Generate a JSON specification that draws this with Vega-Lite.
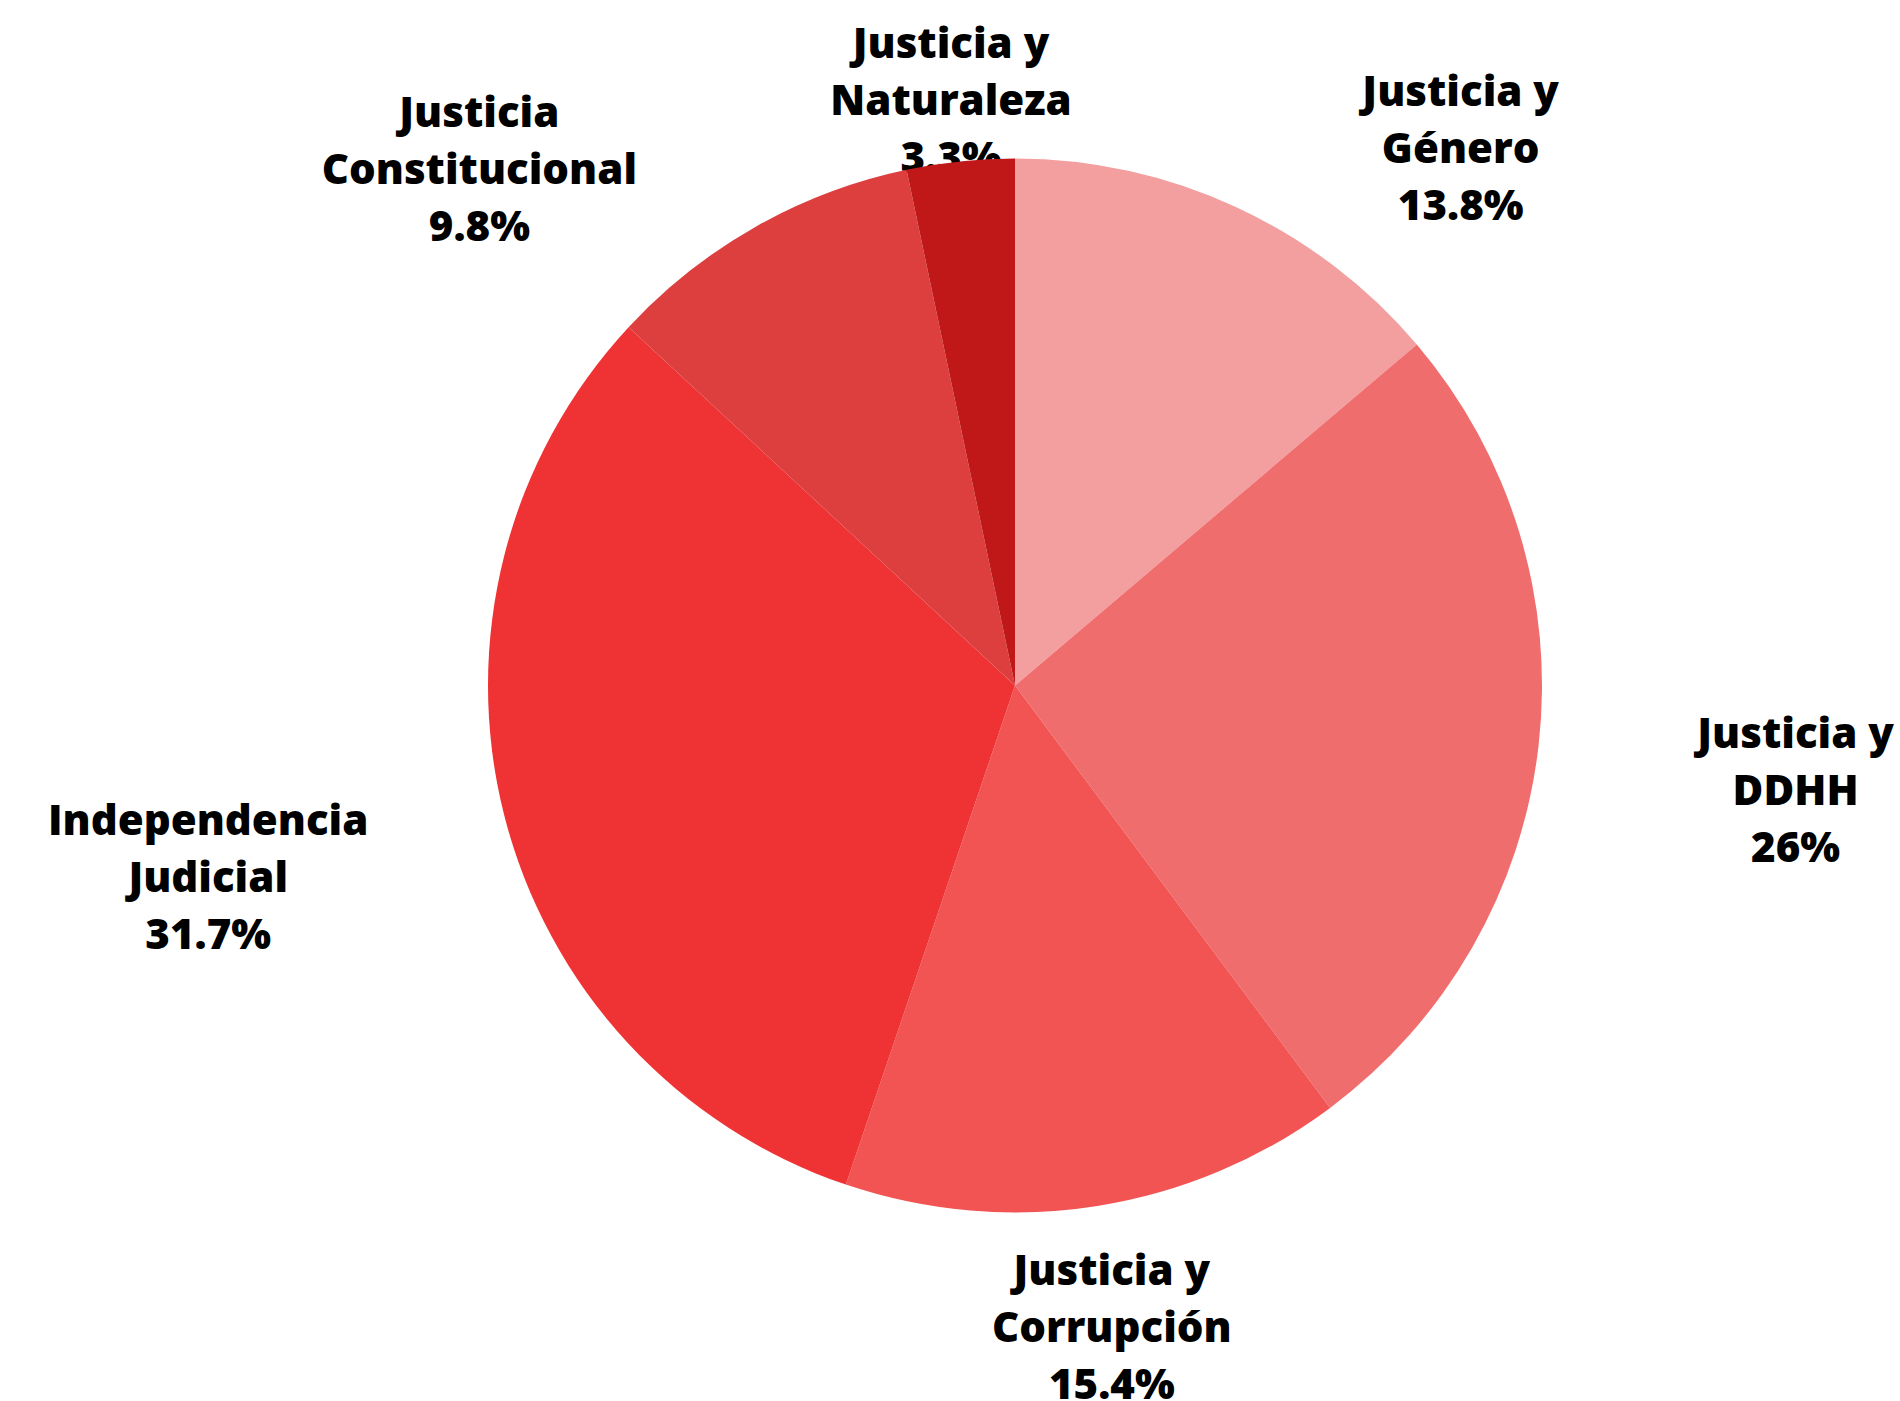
{
  "$schema": "https://vega.github.io/schema/vega-lite/v6.json",
  "autosize": {"type": "none"},
  "width": 1770,
  "height": 1371,
  "padding": {"left": 130, "top": 0, "right": 0, "bottom": 30},
  "background": "white",
  "config": {"view": {"stroke": null}},
  "data": {
    "values": [
      {"categoria": "Justicia y Género", "valor": 13.8, "orden": 1},
      {"categoria": "Justicia y DDHH", "valor": 26, "orden": 2},
      {"categoria": "Justicia y Corrupción", "valor": 15.4, "orden": 3},
      {"categoria": "Independencia Judicial", "valor": 31.7, "orden": 4},
      {"categoria": "Justicia Constitucional", "valor": 9.8, "orden": 5},
      {"categoria": "Justicia y Naturaleza", "valor": 3.3, "orden": 6}
    ]
  },
  "layer": [
    {
      "transform": [
        {"calculate": "slice(datum.categoria, 0, lastindexof(datum.categoria, ' ')) + '\\n' + slice(datum.categoria, lastindexof(datum.categoria, ' ') + 1) + '\\n' + datum.valor + '%'", "as": "etiqueta"}
      ],
      "mark": {
        "type": "text",
        "font": "Open Sans",
        "fontWeight": 800,
        "fontSize": 42,
        "lineHeight": 57,
        "lineBreak": "\n",
        "color": "black",
        "baseline": "middle",
        "align": "center",
        "dy": -25,
        "dx": {"expr": "abs(sin(PI*(datum.valor_start+datum.valor_end)/100)) < 0.25 ? 0 : (sin(PI*(datum.valor_start+datum.valor_end)/100) > 0 ? 1 : -1) * (11.5 * max(lastindexof(datum.categoria, ' '), length(datum.categoria) - lastindexof(datum.categoria, ' ') - 1) + 75 * abs(cos(PI*(datum.valor_start+datum.valor_end)/100)))"},
        "radius": {"expr": "1/sqrt(pow(sin(PI*(datum.valor_start+datum.valor_end)/100)/662,2)+pow(cos(PI*(datum.valor_start+datum.valor_end)/100)/618,2))"}
      },
      "encoding": {
        "theta": {"field": "valor", "type": "quantitative", "stack": true},
        "detail": {"field": "categoria", "type": "nominal"},
        "order": {"field": "orden", "type": "quantitative"},
        "text": {"field": "etiqueta", "type": "nominal"}
      }
    },
    {
      "mark": {"type": "arc", "radius": 527},
      "encoding": {
        "theta": {"field": "valor", "type": "quantitative", "stack": true},
        "order": {"field": "orden", "type": "quantitative"},
        "color": {
          "field": "categoria",
          "type": "nominal",
          "legend": null,
          "scale": {
            "domain": ["Justicia y Género", "Justicia y DDHH", "Justicia y Corrupción", "Independencia Judicial", "Justicia Constitucional", "Justicia y Naturaleza"],
            "range": ["#F39E9F", "#F06D6E", "#F25454", "#EF3234", "#DD3E3E", "#C01818"]
          }
        }
      }
    }
  ]
}
